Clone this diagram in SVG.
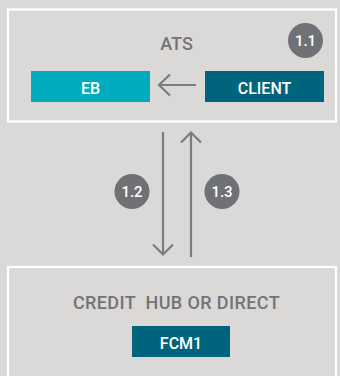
<svg xmlns="http://www.w3.org/2000/svg" width="340" height="376" viewBox="0 0 340 376">
<defs>
<style>
.frame{fill:none;stroke:#ffffff;stroke-width:2.2}
.head{font-family:Roboto,"Liberation Sans",sans-serif;font-size:18px;font-weight:500;fill:#727376;text-anchor:middle;white-space:pre}
.lbl{font-family:Roboto,"Liberation Sans",sans-serif;font-size:16px;font-weight:500;fill:#ffffff;text-anchor:middle}
.num{font-family:Roboto,"Liberation Sans",sans-serif;font-size:15px;font-weight:500;fill:#ffffff;text-anchor:middle}
.badge{fill:#707174}
.conn{fill:none;stroke:#7b7c7f;stroke-width:2.2}
</style>
</defs>
<rect width="340" height="376" fill="#dbd9d7"/>
<g id="ats">
<rect class="frame" x="8" y="9.5" width="328" height="112"/>
<text class="head" x="176.5" y="50">ATS</text>
</g>
<g id="eb">
<rect x="31" y="71" width="119" height="31" fill="#00abbd"/>
<text class="lbl" x="90.5" y="94">EB</text>
</g>
<g id="client">
<rect x="205" y="71" width="119" height="31" fill="#00657c"/>
<text class="lbl" x="264.5" y="94">CLIENT</text>
</g>
<g id="credit-hub">
<rect class="frame" x="8" y="267" width="328" height="120"/>
<text class="head" x="176.5" y="309" font-size="19.5" letter-spacing="0.4">CREDIT  HUB OR DIRECT</text>
</g>
<g id="fcm1">
<rect x="132" y="326" width="98" height="31" fill="#00657c"/>
<text class="lbl" x="181" y="348.5">FCM1</text>
</g>
<g id="connectors">
<path class="conn" d="M196 85H159M170 74.5L159 85L170 95.5"/>
<path class="conn" d="M163 132V254M153 244.5L163 254.5L173 244.5"/>
<path class="conn" d="M191 257V133M181 142.5L191 132.5L201 142.5"/>
</g>
<g id="badge-1-1">
<circle class="badge" cx="305.5" cy="40.5" r="17.5"/>
<text class="num" x="305.5" y="46">1.1</text>
</g>
<g id="badge-1-2">
<circle class="badge" cx="132" cy="191.5" r="17.5"/>
<text class="num" x="132" y="197">1.2</text>
</g>
<g id="badge-1-3">
<circle class="badge" cx="222" cy="191.5" r="17.5"/>
<text class="num" x="222" y="197">1.3</text>
</g>
</svg>
